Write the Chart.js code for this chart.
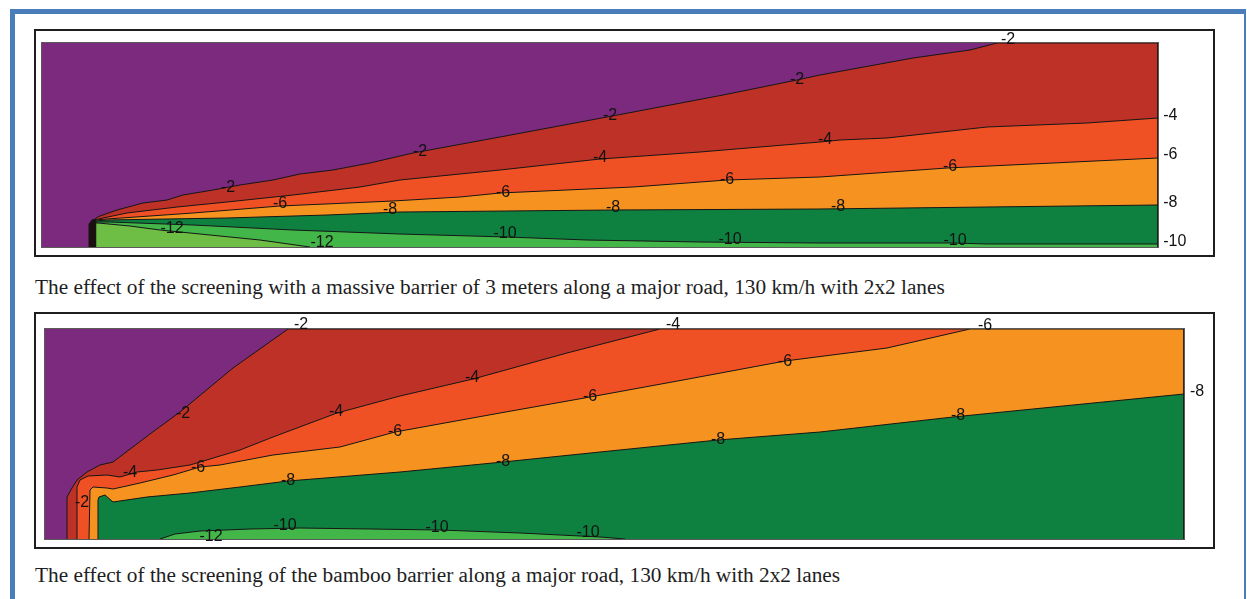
<!DOCTYPE html>
<html>
<head>
<meta charset="utf-8">
<script src="https://cdn.jsdelivr.net/npm/chart.js@4.4.1/dist/chart.umd.min.js"></script>
<style>
  body { margin: 0; width: 1247px; height: 599px; background: #fff; position: relative; overflow: hidden;
         font-family: "Liberation Serif", "Times New Roman", serif; }
  #outer { position: absolute; left: 10px; top: 9px; width: 1229px; height: 600px;
           border-left: 5px solid #4A7EBB; border-top: 5px solid #4A7EBB; border-right: 2px solid #4A7EBB; }
  .frame { position: absolute; left: 34px; width: 1177px; border: 2.5px solid #1e1e1e; }
  #f1 { top: 29px; height: 224px; }
  #f2 { top: 312px; height: 233px; }
  .cap { position: absolute; left: 35px; font-size: 21.3px; line-height: 21px; color: #1e1e1e; white-space: nowrap; }
  canvas { position: absolute; left: 0; }
</style>
</head>
<body>
<div id="outer"></div>
<div class="frame" id="f1"></div>
<div class="frame" id="f2"></div>
<div class="cap" style="top:277px">The effect of the screening with a massive barrier of 3 meters along a major road, 130 km/h with 2x2 lanes</div>
<div class="cap" style="top:565px">The effect of the screening of the bamboo barrier along a major road, 130 km/h with 2x2 lanes</div>
<canvas id="c1" width="1247" height="300" style="top:0"></canvas>
<canvas id="c2" width="1247" height="299" style="top:300px"></canvas>
<script>
// noise reduction bands (dB), colour per band below each level
const purple = '#7B2A7D';
const bandColors = { '-2': '#BD3126', '-4': '#F05124', '-6': '#F6921F', '-8': '#0E8140', '-10': '#43B649', '-12': '#6EBE45' };

// panel 1: massive 3 m barrier; x = distance (m), y = height (m)
const p1Range = { x: 279, y: 51 };
const p1Level2 = [[13.25,0],[13.25,6.75],[13.5,7.25],[14.5,7.75],[18.75,9.25],[25.25,11],[31.25,11.75],[35.25,13],[42.75,14.25],[49.5,15.5],[57.75,16.75],[64.5,18.25],[72.75,19.25],[82,21],[92.75,23.5],[114.5,27.5],[141.25,32.5],[170.25,38],[188.75,41.75],[194.5,43],[217.75,47.25],[232,49.25],[238.75,51],[279,51],[279,0]];
const p1Level4 = [[13.25,0],[13.25,6.75],[15.25,7.25],[21.25,8.5],[33.75,10],[46.25,11.25],[62.75,13],[79.5,15],[89.5,16.75],[104.5,18.25],[114.5,19.25],[139.5,22],[164.5,23.75],[194.5,26.25],[199.5,26.75],[211.25,27.25],[236.25,30],[261.25,31],[279,32.25],[279,0]];
const p1Level6 = [[13.25,0],[13.25,6.75],[16.25,7],[37.75,8.5],[59.5,10.25],[87.75,11.5],[104.5,12.5],[114.5,13.5],[147.75,15],[171.25,16.75],[194.5,17.5],[226.25,19.75],[252.75,21],[279,22.25],[279,0]];
const p1Level8 = [[13.25,0],[13.25,6.5],[16.25,6.75],[46.25,7.25],[71.25,8],[89.5,8.75],[142.75,9.25],[194.5,9.5],[236.25,10],[279,10.5],[279,0]];
const p1Level10 = [[13.25,0],[13.25,6.25],[17,6.25],[37.75,5.5],[62.75,4.25],[89.5,3.25],[116.25,2.5],[136.25,1.75],[164.5,1.25],[194.5,1],[227.75,1],[236.25,0.75],[279,0.75],[279,0]];
const p1Level12 = [[13.25,0],[13.25,6],[14,6],[22,5.25],[29.5,4.25],[42,3],[54.5,1.75],[67,0]];
const p1Barrier = [[11.75,0],[11.75,5.75],[12.5,6.75],[13.4,7],[13.4,0]];
const p1Labels = [
  ['-2',46.5,14.75],['-2',94.5,23.75],['-2',142,32.75],['-2',188.75,41.75],['-2',241.5,51.9],
  ['-4',139.5,22.25],['-4',195.75,26.75],
  ['-6',59.5,10.75],['-6',115.25,13.5],['-6',171.25,16.75],['-6',227,20],
  ['-8',87,9.25],['-8',142.75,9.75],['-8',199,10],
  ['-10',115.75,3.25],['-10',172,1.75],['-10',228.25,1.5],
  ['-12',32.5,4.5],['-12',70,1]
];
const p1EdgeLabels = [['-4',280.3,32.75],['-6',280.3,23],['-8',280.3,11],['-10',280.3,1.25]];

// panel 2: bamboo barrier
const p2Range = { x: 284.75, y: 52.5 };
const p2Level2 = [[5.5,0],[5.5,10.5],[6.75,12.75],[8,14.75],[10.5,16.75],[13.75,18.5],[17,19.25],[26.25,26.25],[33.75,31.75],[47,42.75],[60.75,52.5],[284.75,52.5],[284.75,0]];
const p2Level4 = [[8,0],[8,13],[8.75,14.75],[10.75,15.75],[15.5,16],[18.75,15.5],[23,16.75],[28,17.25],[36.25,18.5],[48.75,22.25],[57,25.5],[73,31.5],[88.75,35.75],[107,40],[130.5,46.5],[153.75,52.5],[284.75,52.5],[284.75,0]];
const p2Level6 = [[11,0],[11.25,12.25],[12,13],[15.5,12.75],[17,12.5],[23.75,14],[32,16],[38.75,18],[43.75,18.5],[57,21],[73.75,23],[87.5,26.75],[113.75,31.5],[136.25,35.5],[159.5,39.75],[185,44.5],[210.5,47.75],[231.25,52.5],[284.75,52.5],[284.75,0]];
const p2Level8 = [[13.25,0],[13.25,9.75],[13.5,10.5],[15,11],[17,9.25],[25.5,10.5],[36.25,11.5],[48.75,13],[60.75,14.5],[88.75,16.75],[114.5,19.25],[138.75,21.75],[168.25,24.75],[193.75,26.75],[227,30.5],[252,33],[284.75,36.25],[284.75,0]];
const p2Level10 = [[28.75,0],[32.5,1.25],[38.75,2],[51.25,2.5],[63.75,2.75],[98.75,2.25],[118.75,1.5],[138.75,0.5],[145,0]];
const p2Labels = [
  ['-2',64,53.5],['-2',34.5,31.25],['-2',9.25,9],
  ['-4',157,53.5],['-4',106.75,40.25],['-4',72.75,31.75],['-4',21.25,16.5],
  ['-6',235,53.25],['-6',185,44.25],['-6',136.25,35.5],['-6',87.5,26.75],['-6',38.25,17.75],
  ['-8',228.25,30.75],['-8',168.25,24.75],['-8',114.5,19.25],['-8',60.75,14.5],
  ['-10',60,3.25],['-10',98,2.75],['-10',135.75,1.5],
  ['-12',41.5,0.5]
];
const p2EdgeLabels = [['-8',286.25,36.75]];

function band(points, color, order) {
  return {
    data: points.map(p => ({ x: p[0], y: p[1] })),
    backgroundColor: color,
    borderColor: '#161616',
    borderWidth: 1,
    fill: 'shape',
    pointRadius: 0,
    tension: 0,
    order: order
  };
}

function contourPlugin(labels, edgeLabels) {
  return {
    id: 'contour',
    beforeDatasetsDraw(chart) {
      const a = chart.chartArea, ctx = chart.ctx;
      ctx.save();
      ctx.fillStyle = purple;
      ctx.fillRect(a.left, a.top, a.width, a.height);
      ctx.restore();
    },
    afterDatasetsDraw(chart) {
      const a = chart.chartArea, ctx = chart.ctx;
      const xs = chart.scales.x, ys = chart.scales.y;
      ctx.save();
      ctx.strokeStyle = '#5a5a5a';
      ctx.lineWidth = 1;
      ctx.strokeRect(a.left - 0.5, a.top - 0.5, a.width + 1, a.height + 1);
      ctx.font = '16px "Liberation Sans", Arial, sans-serif';
      ctx.fillStyle = '#111';
      ctx.textBaseline = 'middle';
      ctx.textAlign = 'center';
      labels.forEach(l => ctx.fillText(l[0], xs.getPixelForValue(l[1]), ys.getPixelForValue(l[2])));
      ctx.textAlign = 'left';
      edgeLabels.forEach(l => ctx.fillText(l[0], xs.getPixelForValue(l[1]), ys.getPixelForValue(l[2])));
      ctx.restore();
    }
  };
}

function makeChart(id, range, datasets, padding, labels, edgeLabels) {
  return new Chart(document.getElementById(id), {
    type: 'line',
    data: { datasets: datasets },
    options: {
      responsive: false,
      animation: false,
      events: [],
      layout: { padding: padding },
      scales: {
        x: { type: 'linear', min: 0, max: range.x, display: false },
        y: { type: 'linear', min: 0, max: range.y, display: false }
      },
      plugins: { legend: { display: false }, tooltip: { enabled: false } }
    },
    plugins: [contourPlugin(labels, edgeLabels)]
  });
}

makeChart('c1', p1Range, [
  band(p1Level2, bandColors['-2'], 7),
  band(p1Level4, bandColors['-4'], 6),
  band(p1Level6, bandColors['-6'], 5),
  band(p1Level8, bandColors['-8'], 4),
  band(p1Level10, bandColors['-10'], 3),
  band(p1Level12, bandColors['-12'], 2),
  band(p1Barrier, '#1a1010', 1)
], { left: 42, right: 89, top: 43, bottom: 53 }, p1Labels, p1EdgeLabels);

makeChart('c2', p2Range, [
  band(p2Level2, bandColors['-2'], 5),
  band(p2Level4, bandColors['-4'], 4),
  band(p2Level6, bandColors['-6'], 3),
  band(p2Level8, bandColors['-8'], 2),
  band(p2Level10, bandColors['-10'], 1)
], { left: 45, right: 63, top: 29, bottom: 60 }, p2Labels, p2EdgeLabels);
</script>
</body>
</html>
